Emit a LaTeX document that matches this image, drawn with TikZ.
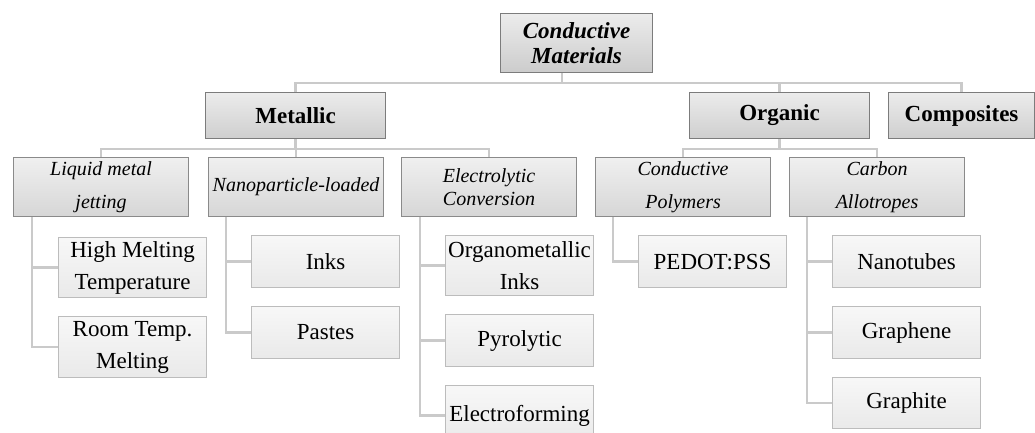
\documentclass[tikz,border=0pt]{standalone}
\usepackage{fontspec}
\setmainfont{Liberation Serif}
\usetikzlibrary{backgrounds}
\definecolor{linkgray}{HTML}{CACACA}
\definecolor{headedge}{HTML}{7C7C7C}
\definecolor{subedge}{HTML}{8A8A8A}
\definecolor{leafedge}{HTML}{BCBCBC}
\tikzset{
  anybox/.style={inner sep=0pt, align=center, anchor=north west, line width=1.1pt},
  rootbox/.style={anybox, draw=headedge, top color=gray!15, bottom color=gray!40,
    minimum width=152pt, minimum height=59pt, font=\fontsize{23}{25}\selectfont\bfseries\itshape},
  headbox/.style={anybox, draw=headedge, top color=gray!15, bottom color=gray!38,
    minimum height=46pt, font=\fontsize{23}{25}\selectfont\bfseries},
  subbox/.style={anybox, draw=subedge, top color=gray!12, bottom color=gray!32,
    minimum width=175pt, minimum height=59pt, font=\fontsize{20}{33}\selectfont\itshape},
  leafbox/.style={anybox, draw=leafedge, top color=gray!6, bottom color=gray!17,
    minimum width=148pt, font=\fontsize{23}{32}\selectfont},
  link/.style={draw=linkgray, line width=2.6pt}
}
\begin{document}
\begin{tikzpicture}[x=1pt,y=-1pt]
\useasboundingbox (0,0) rectangle (1035,433);
%% root
\node[rootbox] (root) at (500,13) {Conductive\\Materials};
%% first level
\node[headbox, minimum width=180pt] (metal) at (205,92) {Metallic};
\node[headbox, minimum width=180pt] (organic) at (689,92) {Organic};
\node[headbox, minimum width=146pt] (compo) at (888,92) {Composites};
%% metallic branch
\node[subbox] (liquid) at (13,157) {Liquid metal\\jetting};
\node[subbox] (nano) at (208,157) {Nanoparticle-loaded};
\node[subbox, font=\fontsize{20}{23}\selectfont\itshape] (electro) at (401,157) {Electrolytic\\Conversion};
\node[leafbox, minimum height=60pt] (highmelt) at (58,237) {High Melting\\Temperature};
\node[leafbox, minimum height=61pt] (roommelt) at (58,316) {Room Temp.\\Melting};
\node[leafbox, minimum height=52pt] (inks) at (251,235) {Inks};
\node[leafbox, minimum height=52pt] (pastes) at (251,306) {Pastes};
\node[leafbox, minimum height=60pt] (orgmet) at (445,235) {Organometallic\\Inks};
\node[leafbox, minimum height=52pt] (pyro) at (445,314) {Pyrolytic};
\node[leafbox, minimum height=60pt] (eforming) at (445,385) {Electroforming};
%% organic branch
\node[subbox] (polymer) at (595,157) {Conductive\\Polymers};
\node[subbox] (carbon) at (789,157) {Carbon\\Allotropes};
\node[leafbox, minimum height=52pt] (pedot) at (638,235) {PEDOT:PSS};
\node[leafbox, minimum height=52pt] (tubes) at (832,235) {Nanotubes};
\node[leafbox, minimum height=52pt] (graphene) at (832,306) {Graphene};
\node[leafbox, minimum height=51pt] (graphite) at (832,377) {Graphite};
%% connectors
\begin{scope}[on background layer]
  \foreach \n in {metal,organic,compo}
    \draw[link] (root.south west) ++(62,0) -- ++(0,10) -| (\n.north);
  \foreach \n in {liquid,nano,electro}
    \draw[link] (metal.south) -- ++(0,10) -| (\n.north);
  \foreach \n in {polymer,carbon}
    \draw[link] (organic.south) -- ++(0,10) -| (\n.north);
  \foreach \n in {highmelt,roommelt}
    \draw[link] (liquid.south west) ++(19,0) |- (\n.west);
  \foreach \n in {inks,pastes}
    \draw[link] (nano.south west) ++(18,0) |- (\n.west);
  \foreach \n in {orgmet,pyro,eforming}
    \draw[link] (electro.south west) ++(19,0) |- (\n.west);
  \draw[link] (polymer.south west) ++(18,0) |- (pedot.west);
  \foreach \n in {tubes,graphene,graphite}
    \draw[link] (carbon.south west) ++(18,0) |- (\n.west);
\end{scope}
\end{tikzpicture}
\end{document}
